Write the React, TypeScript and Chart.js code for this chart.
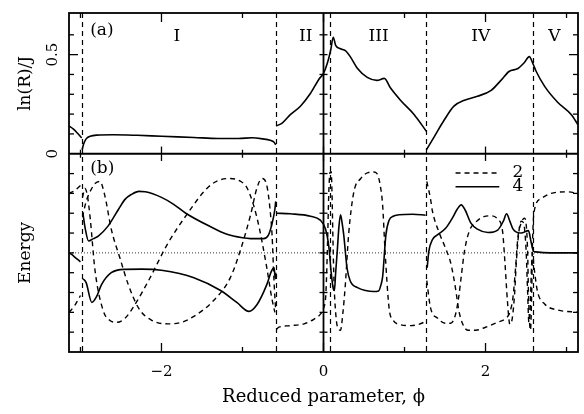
import React, { useEffect, useRef } from 'react';
import { Chart, registerables } from 'chart.js';

Chart.register(...registerables);

type P = [number, number];
const PI = Math.PI;
const FONT = '"DejaVu Serif", serif';

// ---- axis ticks / labels ----
const X_TICKS = [-3, -2, -1, 0, 1, 2, 3];
const X_TICK_LABELS: Record<string, string> = { '-2': '\u22122', '0': '0', '2': '2' };
const R_TICKS = [0, 0.1, 0.2, 0.3, 0.4, 0.5, 0.6];
const R_TICK_LABELS: Record<string, string> = { '0': '0', '0.5': '0.5' };
const E_TICKS = [-4, -3, -2, -1, 0, 1, 2, 3, 4];

// ---- regions ----
const BOUNDARIES = [-2.98, -0.585, 0.08, 1.27, 2.59];
const REGION_NAMES = ['I', 'II', 'III', 'IV', 'V'];
const REGION_X = [-1.81, -0.22, 0.68, 1.94, 2.85];
const LEGEND_NAMES = ['2', '4'];

// ---- panel (a): ln(R)/J ----
const R_PRE: P[] = [[-3.1416, 0.14], [-3.09, 0.125], [-3.04, 0.105], [-2.985, 0.08]];
const R_I: P[] = [[-2.98, 0.02], [-2.96, 0.05], [-2.93, 0.075], [-2.88, 0.088], [-2.8, 0.094], [-2.6, 0.096], [-2.3, 0.093], [-2.0, 0.088], [-1.6, 0.082], [-1.3, 0.077], [-1.05, 0.077], [-0.88, 0.081], [-0.75, 0.075], [-0.66, 0.068], [-0.61, 0.058], [-0.59, 0.045]];
const R_II_III: P[] = [[-0.585, 0.14], [-0.51, 0.155], [-0.41, 0.197], [-0.285, 0.24], [-0.16, 0.305], [-0.05, 0.38], [0.0, 0.405], [0.05, 0.46], [0.09, 0.525], [0.12, 0.588], [0.15, 0.547], [0.21, 0.53], [0.27, 0.52], [0.33, 0.49], [0.42, 0.43], [0.54, 0.385], [0.66, 0.37], [0.75, 0.38], [0.83, 0.33], [0.95, 0.27], [1.12, 0.197], [1.27, 0.113]];
const R_IV_V: P[] = [[1.27, 0.02], [1.37, 0.088], [1.49, 0.17], [1.61, 0.24], [1.74, 0.27], [1.9, 0.29], [2.07, 0.32], [2.19, 0.37], [2.29, 0.415], [2.4, 0.43], [2.48, 0.46], [2.54, 0.49], [2.59, 0.45], [2.62, 0.42], [2.73, 0.34], [2.89, 0.26], [3.06, 0.197], [3.1416, 0.146]];

// ---- panel (b): energies, series "2" (dashed) ----
const E2_PRE_UP: P[] = [[-3.1416, 3.0], [-3.07, 3.15], [-3.0, 3.4]];
const E2_PRE_LO: P[] = [[-3.1416, -3.0], [-3.07, -2.65], [-3.0, -2.15]];
const E2_I_A: P[] = [[-2.975, 1.8], [-2.93, 2.6], [-2.88, 3.1], [-2.82, 3.5], [-2.76, 3.6], [-2.7, 2.9], [-2.62, 1.2], [-2.51, -0.3], [-2.41, -1.6], [-2.28, -2.8], [-2.12, -3.4], [-1.92, -3.58], [-1.75, -3.5], [-1.6, -3.2], [-1.36, -2.42], [-1.15, -1.25], [-1.03, 0.08], [-0.9, 1.92], [-0.82, 3.3], [-0.76, 3.75], [-0.7, 3.4], [-0.66, 2.2], [-0.635, 0.9], [-0.61, -1.5], [-0.59, -2.9]];
const E2_I_B: P[] = [[-2.975, 2.8], [-2.945, 3.25], [-2.915, 2.9], [-2.88, 1.75], [-2.82, -0.9], [-2.72, -2.9], [-2.64, -3.4], [-2.55, -3.5], [-2.45, -3.3], [-2.35, -2.75], [-2.14, -1.25], [-1.93, 0.42], [-1.69, 1.92], [-1.44, 3.25], [-1.3, 3.65], [-1.15, 3.75], [-1.02, 3.6], [-0.94, 3.25], [-0.82, 1.75], [-0.7, -0.75], [-0.64, -2.25], [-0.6, -3.0]];
const E2_II_III: P[] = [[-0.58, -3.85], [-0.55, -3.75], [-0.41, -3.67], [-0.24, -3.58], [-0.12, -3.35], [-0.03, -3.05], [0.0, -2.8], [0.03, -2.0], [0.05, 0.5], [0.065, 3.0], [0.08, 4.05], [0.095, 4.1], [0.105, 3.0], [0.115, 1.0], [0.13, -1.5], [0.15, -3.0], [0.17, -3.7], [0.21, -3.9], [0.24, -3.0], [0.27, -1.58], [0.31, 0.92], [0.375, 3.08], [0.46, 3.75], [0.55, 4.05], [0.62, 4.08], [0.66, 4.0], [0.7, 3.42], [0.73, 2.4], [0.76, 0.08], [0.81, -2.8], [0.86, -3.4], [0.93, -3.6], [1.08, -3.67], [1.24, -3.5], [1.27, -3.42]];
const E2_IV_B: P[] = [[1.275, 3.6], [1.32, 2.75], [1.345, 2.1], [1.43, 1.0], [1.51, 0.2], [1.57, -0.5], [1.63, -1.8], [1.67, -2.9], [1.72, -3.6], [1.78, -3.9], [1.88, -3.9], [2.0, -3.75], [2.15, -3.5], [2.25, -3.3], [2.3, -3.0], [2.34, -2.2], [2.37, -0.8], [2.4, 0.8], [2.44, 1.5], [2.48, 1.75], [2.5, 1.5], [2.52, 0.0], [2.53, -2.0], [2.545, -3.6], [2.555, -3.9], [2.57, -2.0], [2.58, 0.5], [2.6, 2.08], [2.69, 2.75], [2.81, 3.0], [3.02, 3.08], [3.1416, 3.0]];
const E2_IV_C: P[] = [[1.275, -1.4], [1.32, -2.75], [1.41, -3.3], [1.5, -3.55], [1.57, -3.55], [1.63, -3.1], [1.67, -2.2], [1.7, -1.2], [1.74, 0.08], [1.8, 1.1], [1.88, 1.55], [1.98, 1.83], [2.07, 1.87], [2.15, 1.7], [2.21, 1.1], [2.24, -0.5], [2.27, -2.4], [2.3, -3.6], [2.33, -3.3], [2.36, -2.0], [2.38, -0.5], [2.41, 1.0], [2.44, 1.6], [2.47, 1.5], [2.5, 0.2], [2.52, -2.0], [2.535, -3.5], [2.55, -3.0], [2.565, -1.0], [2.58, 0.0], [2.6, -0.75], [2.64, -1.92], [2.73, -2.58], [2.89, -2.88], [3.1416, -3.0]];

// ---- panel (b): energies, series "4" (solid) ----
const E4_PRE: P[] = [[-3.1416, 0.0], [-3.11, -0.08], [-3.06, -0.25], [-3.0, -0.45]];
const E4_I_UP: P[] = [[-2.97, 2.0], [-2.94, 1.2], [-2.9, 0.6], [-2.84, 0.72], [-2.78, 0.85], [-2.66, 1.35], [-2.53, 2.2], [-2.45, 2.7], [-2.37, 2.95], [-2.28, 3.1], [-2.2, 3.08], [-2.0, 2.8], [-1.85, 2.45], [-1.7, 2.0], [-1.4, 1.33], [-1.2, 0.95], [-1.0, 0.76], [-0.9, 0.72], [-0.74, 0.72], [-0.68, 0.9], [-0.64, 1.4], [-0.6, 2.2], [-0.59, 2.6]];
const E4_I_LO: P[] = [[-2.97, -1.3], [-2.93, -1.5], [-2.86, -2.5], [-2.8, -2.2], [-2.74, -1.6], [-2.62, -1.0], [-2.45, -0.83], [-2.24, -0.82], [-2.0, -0.88], [-1.6, -1.25], [-1.27, -1.9], [-1.07, -2.5], [-0.92, -2.95], [-0.82, -2.6], [-0.7, -1.6], [-0.64, -0.9], [-0.61, -0.75], [-0.595, -1.3], [-0.59, -1.0]];
const E4_II_III: P[] = [[-0.58, 2.0], [-0.41, 1.97], [-0.16, 1.85], [-0.04, 1.65], [0.025, 1.2], [0.066, 0.3], [0.095, -1.0], [0.12, -1.8], [0.135, -1.9], [0.15, -1.0], [0.17, 0.1], [0.19, 1.3], [0.21, 1.92], [0.23, 1.5], [0.25, 0.9], [0.29, -0.75], [0.33, -1.42], [0.42, -1.75], [0.52, -1.9], [0.62, -1.95], [0.68, -1.92], [0.71, -1.6], [0.73, -1.2], [0.77, 0.9], [0.81, 1.65], [0.86, 1.85], [0.93, 1.92], [1.1, 1.95], [1.26, 1.9]];
const E4_IV_V: P[] = [[1.28, -0.75], [1.3, 0.08], [1.345, 0.67], [1.41, 0.92], [1.51, 1.25], [1.59, 1.75], [1.65, 2.2], [1.7, 2.42], [1.75, 2.15], [1.82, 1.5], [1.9, 1.2], [2.03, 1.03], [2.15, 1.15], [2.22, 1.6], [2.26, 1.97], [2.3, 1.6], [2.34, 1.2], [2.44, 1.0], [2.53, 1.12], [2.56, 0.6], [2.59, 0.1], [2.62, 0.05], [2.8, 0.0], [3.1416, 0.0]];

const E_ZERO: P[] = [[-PI, 0], [PI, 0]];

const DASH = [5, 4];

function ds(pts: P[], axis: string, dash: number[], width = 1.6) {
  return {
    data: pts.map(([x, y]) => ({ x, y })),
    yAxisID: axis,
    borderColor: '#000',
    borderWidth: width,
    borderDash: dash,
    pointRadius: 0,
    fill: false,
    cubicInterpolationMode: 'monotone' as const,
  };
}

const decor = {
  id: 'decor',
  afterDatasetsDraw(chart: any) {
    const { ctx, chartArea: ca, scales } = chart;
    const xs = scales.x, yR = scales.yR, yE = scales.yE;
    const line = (x1: number, y1: number, x2: number, y2: number) => {
      ctx.beginPath(); ctx.moveTo(x1, y1); ctx.lineTo(x2, y2); ctx.stroke();
    };
    ctx.save();
    ctx.strokeStyle = '#000';
    ctx.fillStyle = '#000';
    // region boundaries
    ctx.lineWidth = 1.2;
    ctx.setLineDash(DASH);
    BOUNDARIES.forEach((b) => { const px = Math.round(xs.getPixelForValue(b)) + 0.5; line(px, ca.top, px, ca.bottom); });
    ctx.setLineDash([]);
    // x = 0 axis line
    ctx.lineWidth = 1.8;
    const x0 = xs.getPixelForValue(0);
    line(x0, ca.top, x0, ca.bottom);
    // frame + divider
    ctx.lineWidth = 1.8;
    ctx.strokeRect(ca.left, ca.top, ca.right - ca.left, ca.bottom - ca.top);
    const yd = yR.getPixelForValue(0);
    line(ca.left, yd, ca.right, yd);
    // ticks
    ctx.lineWidth = 1.3;
    X_TICKS.forEach((v) => {
      const px = xs.getPixelForValue(v);
      const len = v % 2 === 0 ? 9 : 5;
      line(px, ca.top, px, ca.top + len);
      line(px, ca.bottom, px, ca.bottom - len);
      line(px, yd - len * 0.8, px, yd + len * 0.8);
    });
    R_TICKS.forEach((v) => {
      if (v === 0) return;
      const py = yR.getPixelForValue(v);
      const len = Math.abs(v - 0.5) < 1e-9 ? 9 : 5;
      line(ca.left, py, ca.left + len, py);
      line(ca.right, py, ca.right - len, py);
      line(x0 - 4, py, x0 + 4, py);
    });
    E_TICKS.forEach((v) => {
      const py = yE.getPixelForValue(v);
      line(ca.left, py, ca.left + 5, py);
      line(ca.right, py, ca.right - 5, py);
      line(x0 - 4, py, x0 + 4, py);
    });
    // texts
    ctx.font = `17px ${FONT}`;
    ctx.textBaseline = 'middle';
    ctx.textAlign = 'left';
    ctx.fillText('(a)', xs.getPixelForValue(-2.88), yR.getPixelForValue(0.62));
    ctx.fillText('(b)', xs.getPixelForValue(-2.88), yE.getPixelForValue(4.23));
    ctx.textAlign = 'center';
    REGION_NAMES.forEach((n, i) => ctx.fillText(n, xs.getPixelForValue(REGION_X[i]), yR.getPixelForValue(0.59)));
    // legend
    const lx1 = xs.getPixelForValue(1.63), lx2 = xs.getPixelForValue(2.17), tx = xs.getPixelForValue(2.4);
    const ly = [yE.getPixelForValue(4.03), yE.getPixelForValue(3.33)];
    ctx.lineWidth = 1.5;
    ctx.setLineDash(DASH);
    line(lx1, ly[0], lx2, ly[0]);
    ctx.setLineDash([]);
    line(lx1, ly[1], lx2, ly[1]);
    LEGEND_NAMES.forEach((n, i) => ctx.fillText(n, tx, ly[i]));
    ctx.restore();
  },
};

export default function App() {
  const ref = useRef<HTMLCanvasElement>(null);
  useEffect(() => {
    if (!ref.current) return;
    Chart.defaults.font.family = FONT;
    Chart.defaults.color = '#000';
    const chart = new Chart(ref.current, {
      type: 'line',
      data: {
        datasets: [
          ds(R_PRE, 'yR', []), ds(R_I, 'yR', []), ds(R_II_III, 'yR', []), ds(R_IV_V, 'yR', []),
          ds(E4_PRE, 'yE', []), ds(E4_I_UP, 'yE', []), ds(E4_I_LO, 'yE', []), ds(E4_II_III, 'yE', []), ds(E4_IV_V, 'yE', []),
          ds(E2_PRE_UP, 'yE', DASH, 1.4), ds(E2_PRE_LO, 'yE', DASH, 1.4), ds(E2_I_A, 'yE', DASH, 1.4), ds(E2_I_B, 'yE', DASH, 1.4),
          ds(E2_II_III, 'yE', DASH, 1.4), ds(E2_IV_B, 'yE', DASH, 1.4), ds(E2_IV_C, 'yE', DASH, 1.4),
          ds(E_ZERO, 'yE', [1, 2], 0.8),
        ] as any,
      },
      options: {
        animation: false,
        responsive: false,
        layout: { padding: { top: 10, right: 6, left: 0, bottom: 0 } },
        plugins: { legend: { display: false }, tooltip: { enabled: false } },
        scales: {
          x: {
            type: 'linear', position: 'bottom', min: -PI, max: PI,
            grid: { display: false, drawTicks: false }, border: { display: false },
            afterBuildTicks: (s: any) => { s.ticks = X_TICKS.map((v) => ({ value: v })); },
            ticks: { autoSkip: false, maxRotation: 0, padding: 11, font: { size: 15 }, color: '#000', callback: (v: any) => X_TICK_LABELS[String(v)] ?? '' },
            title: { display: true, text: 'Reduced parameter, \u03d5', font: { size: 18 }, color: '#000', padding: { top: 0, bottom: 6 } },
            afterFit: (s: any) => { s.height = 62; },
          },
          yE: {
            type: 'linear', position: 'left', stack: 'panels', stackWeight: 200, min: -5, max: 5,
            grid: { display: false, drawTicks: false }, border: { display: false },
            ticks: { display: false },
            title: { display: true, text: 'Energy', font: { size: 17 }, color: '#000', padding: { top: 15, bottom: 0 } },
            afterFit: (s: any) => { s.width = 69; },
          },
          yR: {
            type: 'linear', position: 'left', stack: 'panels', stackWeight: 142, min: 0, max: 0.71,
            grid: { display: false, drawTicks: false }, border: { display: false },
            afterBuildTicks: (s: any) => { s.ticks = R_TICKS.map((v) => ({ value: v })); },
            ticks: { minRotation: 90, maxRotation: 90, crossAlign: 'center', padding: 4, font: { size: 15 }, color: '#000', autoSkip: false, callback: (v: any) => R_TICK_LABELS[String(Math.round(v * 10) / 10)] ?? '' },
            title: { display: true, text: 'ln(R)/J', font: { size: 17 }, color: '#000', padding: { top: 15, bottom: 0 } },
            afterFit: (s: any) => { s.width = 69; },
          },
        } as any,
      },
      plugins: [decor],
    });
    return () => chart.destroy();
  }, []);
  return (
    <div style={{ position: 'absolute', left: 0, top: 0, width: 584, height: 414 }}>
      <canvas ref={ref} width={584} height={414} />
    </div>
  );
}
